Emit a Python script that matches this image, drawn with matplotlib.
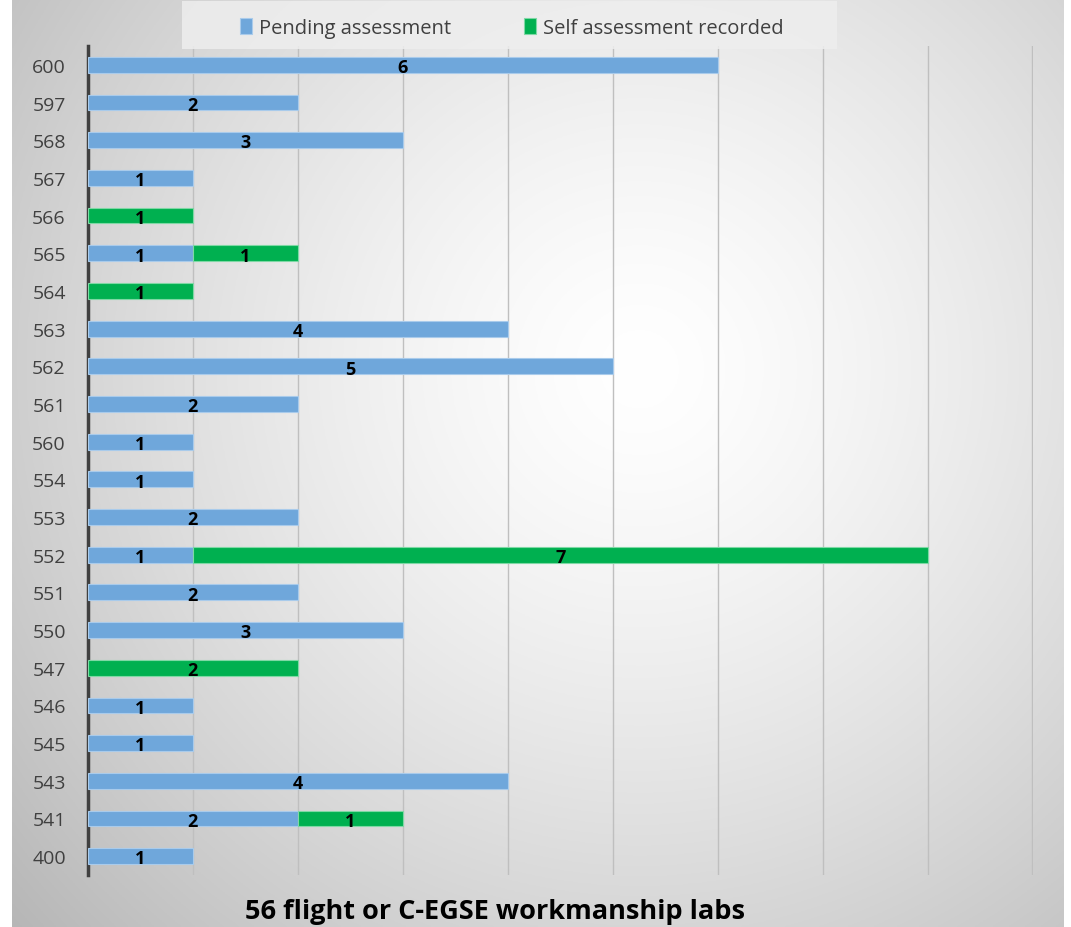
import matplotlib
matplotlib.use("Agg")
import matplotlib.pyplot as plt
from matplotlib.patches import Rectangle
import numpy as np

labs = ["400", "541", "543", "545", "546", "547", "550", "551", "552", "553", "554",
        "560", "561", "562", "563", "564", "565", "566", "567", "568", "597", "600"]
pending = [1, 2, 4, 1, 1, 0, 3, 2, 1, 2, 1, 1, 2, 5, 4, 0, 1, 0, 1, 3, 2, 6]
self_rec = [0, 1, 0, 0, 0, 2, 0, 0, 7, 0, 0, 0, 0, 0, 0, 1, 1, 1, 0, 0, 0, 0]

W, H = 1071, 928
fig = plt.figure(figsize=(W / 100, H / 100), dpi=100, facecolor="white")

# radial gradient panel behind the chart
bg = fig.add_axes([12 / W, 0, (1064 - 12) / W, 1], zorder=0)
gx, gy = np.meshgrid(np.linspace(12, 1064, 400), np.linspace(0, H, 400))
r = np.hypot(gx - 640, gy - 370) / 720
shade = np.clip(1 - 0.23 * r ** 1.4, 0, 1)
bg.imshow(np.dstack([shade] * 3), aspect="auto", extent=[0, 1, 0, 1], origin="upper")
bg.axis("off")

ax = fig.add_axes([88 / W, (H - 876) / H, (1033 - 88) / W, (876 - 47) / H], zorder=1)
ax.patch.set_alpha(0)

y = np.arange(len(labs))
blue = "#6FA7DB"
green = "#00B050"
pend = np.array(pending)
selfr = np.array(self_rec)
m1 = pend > 0
m2 = selfr > 0
b1 = ax.barh(y[m1], pend[m1], height=0.42, color=blue, edgecolor="#A9CBEB", linewidth=0.8, zorder=3)
b2 = ax.barh(y[m2], selfr[m2], left=pend[m2], height=0.42, color=green, edgecolor="#7FD8A5",
             linewidth=0.8, zorder=3)

for bars, vals in ((b1, pend[m1]), (b2, selfr[m2])):
    for rect, v in zip(bars, vals):
        ax.text(rect.get_x() + rect.get_width() / 2, rect.get_y() + rect.get_height() / 2 - 0.06,
                str(v), ha="center", va="center", fontsize=13, fontweight="bold",
                color="black", family="Open Sans", zorder=4)

ax.set_xlim(0, 9.005)
ax.set_ylim(-0.5, len(labs) - 0.5)
ax.set_xticks(range(1, 10))
ax.set_xticklabels([])
ax.tick_params(axis="x", length=0)
ax.grid(axis="x", color="#BFBFBF", linewidth=1, zorder=0)
ax.set_yticks(y)
ax.set_yticklabels(labs, fontsize=14, color="#404040", family="Open Sans")
ax.tick_params(axis="y", length=0, pad=16)
for s in ("top", "right", "bottom"):
    ax.spines[s].set_visible(False)
ax.spines["left"].set_color("#404040")
ax.spines["left"].set_linewidth(2.5)

# legend box
fig.patches.append(Rectangle((182 / W, 1 - 50 / H), (837 - 182) / W, 48 / H,
                             transform=fig.transFigure, facecolor="#EEEEEE", alpha=0.85,
                             edgecolor="none", zorder=4))
leg = fig.legend([b1, b2], ["Pending assessment", "Self assessment recorded"],
                 loc="center", bbox_to_anchor=(512 / W, 1 - 29 / H), ncol=2,
                 frameon=False, handlelength=0.6, handleheight=0.8, columnspacing=3.6,
                 handletextpad=0.35, borderpad=0, borderaxespad=0,
                 prop={"family": "Open Sans", "size": 14.5})
leg.set_zorder(5)
for t in leg.get_texts():
    t.set_color("#404040")

fig.text(495 / W, 1 - 912 / H, "56 flight or C-EGSE workmanship labs", ha="center", va="center",
         fontsize=19.5, fontweight="bold", family="Open Sans", color="black")

fig.savefig("out.png", dpi=100, facecolor="white")
